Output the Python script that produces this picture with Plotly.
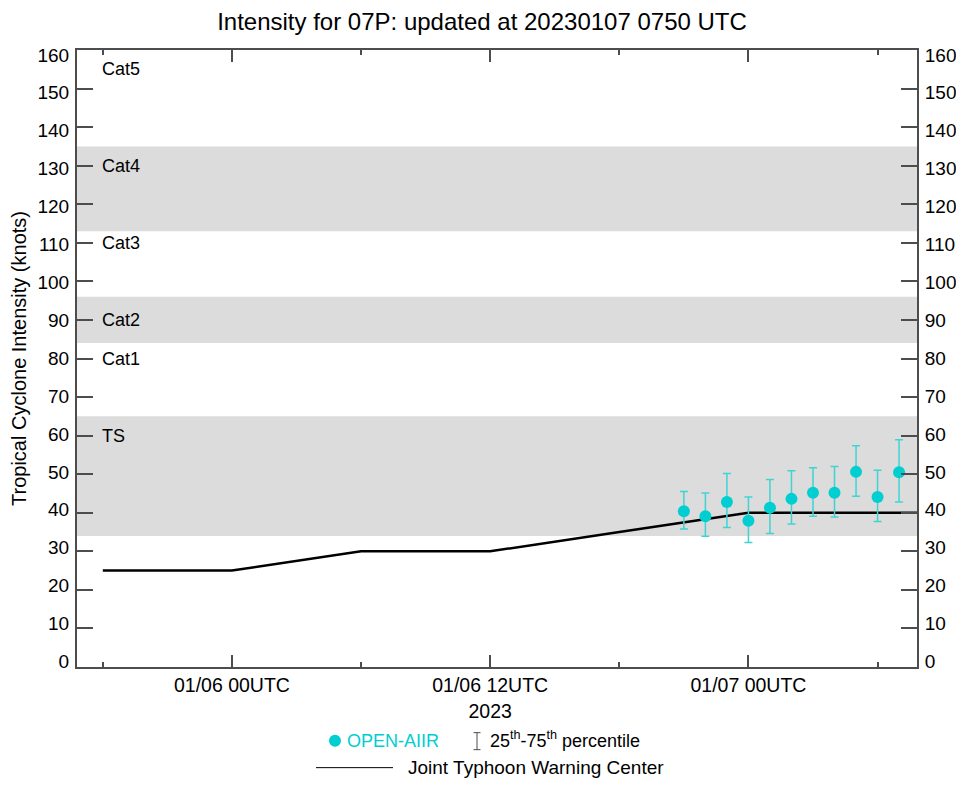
import plotly.graph_objects as go

# OPEN-AIIR hourly estimates (knots): median with 25th/75th percentile
aiirTimes = ['2023-01-06 21:00', '2023-01-06 22:00', '2023-01-06 23:00', '2023-01-07 00:00',
             '2023-01-07 01:00', '2023-01-07 02:00', '2023-01-07 03:00', '2023-01-07 04:00',
             '2023-01-07 05:00', '2023-01-07 06:00', '2023-01-07 07:00']
aiirMedian = [40.4, 39.1, 42.8, 37.9, 41.3, 43.6, 45.2, 45.2, 50.6, 44.1, 50.5]
aiirP25 = [35.8, 33.9, 36.2, 32.3, 34.6, 37.1, 39.1, 38.9, 44.3, 37.7, 42.8]
aiirP75 = [45.5, 45.1, 50.2, 44.1, 48.6, 50.9, 51.7, 52.0, 57.4, 51.0, 58.9]

# Joint Typhoon Warning Center intensity (knots)
jtwcTimes = ['2023-01-05 18:00', '2023-01-06 00:00', '2023-01-06 06:00', '2023-01-06 12:00',
             '2023-01-06 18:00', '2023-01-07 00:00', '2023-01-07 06:00', '2023-01-07 12:00']
jtwcKnots = [25, 25, 30, 30, 35, 40, 40, 40]

# Saffir-Simpson bands that get shaded, and the category labels
bandLow = [34, 84, 113]
bandHigh = [65, 96, 135]
catNames = ['TS', 'Cat1', 'Cat2', 'Cat3', 'Cat4', 'Cat5']
catKnots = [60, 80, 90, 110, 130, 155]

tickVals = ['2023-01-06 00:00', '2023-01-06 12:00', '2023-01-07 00:00']
tickText = ['01/06 00UTC', '01/06 12UTC<br>2023', '01/07 00UTC']

teal = '#00CED1'
axisColor = '#4d4d4d'
font = 'Liberation Sans, Arial, sans-serif'

# the page body has an 8px margin, so everything is shifted back by that much
pad = 8
# plot area in reference pixels, used to place the hand-built legend
left, right, top, bottom = 77, 917, 50, 667.3
def px(x):
    return (x - left) / (right - left)
def py(y):
    return (bottom - y) / (bottom - top)

upper = [hi - m for hi, m in zip(aiirP75, aiirMedian)]
lower = [m - lo for lo, m in zip(aiirP25, aiirMedian)]

fig = go.Figure()
fig.add_trace(go.Scatter(x=jtwcTimes, y=jtwcKnots, mode='lines',
                         line=dict(color='black', width=2.5), name='Joint Typhoon Warning Center'))
fig.add_trace(go.Scatter(x=aiirTimes, y=aiirMedian, mode='markers',
                         marker=dict(color=teal, size=12),
                         error_y=dict(type='data', symmetric=False, array=upper, arrayminus=lower,
                                      color='#3fd3d4', thickness=1.5, width=4),
                         name='OPEN-AIIR'))
# invisible traces so the extra axes get drawn
for ax in ['y2', 'y3', 'y4']:
    fig.add_trace(go.Scatter(x=[jtwcTimes[0]], y=[0], yaxis=ax, mode='markers',
                             marker=dict(opacity=0), showlegend=False, hoverinfo='skip'))

for lo, hi in zip(bandLow, bandHigh):
    fig.add_shape(type='rect', xref='paper', x0=0, x1=1, y0=lo, y1=hi,
                  fillcolor='#dcdcdc', line_width=0, layer='below')

for name, k in zip(catNames, catKnots):
    fig.add_annotation(text=name, xref='paper', x=px(100), y=k, xanchor='left', yanchor='middle',
                       showarrow=False, font=dict(size=18, color='black', family=font))

# legend, drawn by hand below the plot
fig.add_shape(type='circle', xref='paper', yref='paper', x0=px(329), x1=px(341), y0=py(735), y1=py(747),
              fillcolor=teal, line_width=0)
fig.add_annotation(text='OPEN-AIIR', xref='paper', yref='paper', x=px(345), y=py(741), xanchor='left',
                   yanchor='middle', showarrow=False, font=dict(size=18, color=teal, family=font))
fig.add_shape(type='line', xref='paper', yref='paper', x0=px(477), x1=px(477), y0=py(733), y1=py(750),
              line=dict(color=axisColor, width=1))
fig.add_shape(type='line', xref='paper', yref='paper', x0=px(473.5), x1=px(480.5), y0=py(733), y1=py(733),
              line=dict(color=axisColor, width=1))
fig.add_shape(type='line', xref='paper', yref='paper', x0=px(473.5), x1=px(480.5), y0=py(750), y1=py(750),
              line=dict(color=axisColor, width=1))
fig.add_annotation(text='25<sup>th</sup>-75<sup>th</sup> percentile', xref='paper', yref='paper',
                   x=px(488), y=py(740), xanchor='left', yanchor='middle', showarrow=False,
                   font=dict(size=18, color='black', family=font))
fig.add_shape(type='line', xref='paper', yref='paper', x0=px(316), x1=px(393), y0=py(768), y1=py(768),
              line=dict(color='black', width=1))
fig.add_annotation(text='Joint Typhoon Warning Center', xref='paper', yref='paper', x=px(406), y=py(768),
                   xanchor='left', yanchor='middle', showarrow=False,
                   font=dict(size=19, color='black', family=font))

# tick marks on both sides (no labels)
yTicks = dict(range=[0, 160], tickmode='linear', tick0=0, dtick=10, ticks='inside', ticklen=16,
              tickwidth=1.5, tickcolor=axisColor, showline=True, linecolor=axisColor, linewidth=1.5,
              showgrid=False, zeroline=False, automargin=False, showticklabels=False)
# labels sit on a slightly squeezed scale, as in the original; clear ticks give the gap
yLabels = dict(range=[-1.48, 161.3], tickmode='linear', tick0=0, dtick=10, ticks='outside', ticklen=3,
               tickcolor='rgba(0,0,0,0)', showline=False, showgrid=False, zeroline=False,
               automargin=False, overlaying='y', tickfont=dict(size=19, color='black', family=font))

fig.update_layout(
    width=964, height=786,
    margin=dict(l=left - pad, r=964 - right + pad, t=top - pad, b=786 - bottom + pad),
    plot_bgcolor='white', paper_bgcolor='white',
    showlegend=False,
    title=dict(text='Intensity for 07P: updated at 20230107 0750 UTC', xref='container', x=(482 - pad) / 964,
               xanchor='center', y=1 - (22 - pad) / 786, yanchor='middle',
               font=dict(size=24, color='black', family=font)),
    xaxis=dict(type='date', range=['2023-01-05 16:48', '2023-01-07 07:50'],
               tickmode='array', tickvals=tickVals, ticktext=tickText,
               ticks='inside', ticklen=12, tickwidth=1.5, tickcolor=axisColor,
               minor=dict(dtick=6 * 3600 * 1000, tick0='2023-01-05 18:00', ticks='inside', ticklen=5,
                          tickwidth=1.5, tickcolor=axisColor, showgrid=False),
               showline=True, linecolor=axisColor, linewidth=1.5, mirror='ticks',
               showgrid=False, zeroline=False, automargin=False,
               tickfont=dict(size=19.5, color='black', family=font)),
    yaxis=yTicks,
    yaxis2=dict(yTicks, overlaying='y', side='right'),
    yaxis3=dict(yLabels, side='left', title=dict(text='Tropical Cyclone Intensity (knots)', standoff=8,
                                                 font=dict(size=20, color='black', family=font))),
    yaxis4=dict(yLabels, side='right'),
)

fig.write_html('out.html')
